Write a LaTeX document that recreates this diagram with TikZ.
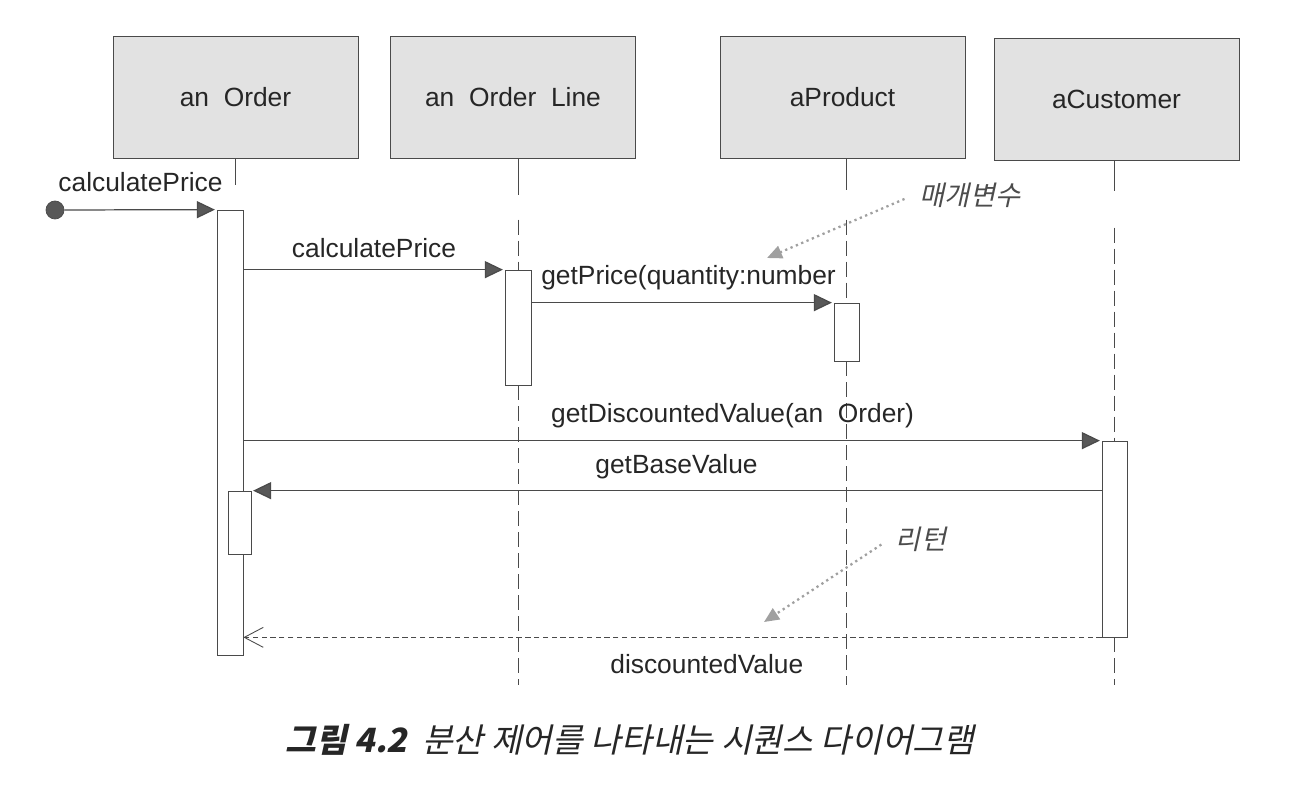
\documentclass[tikz,border=0pt]{standalone}
\usepackage{fontspec}
\setmainfont{Liberation Sans}
\newfontfamily\krslant[FakeSlant=0.22]{Noto Sans CJK KR}
\usepackage{xcolor}
\usetikzlibrary{positioning,calc,arrows.meta}
\definecolor{boxgray}{HTML}{E2E2E2}
\definecolor{linegray}{HTML}{4A4A4A}
\definecolor{headgray}{HTML}{585858}
\definecolor{notegray}{HTML}{A0A0A0}

\begin{document}
\begin{tikzpicture}[x=0.2mm, y=-0.2mm,
    font=\fontsize{15pt}{18pt}\selectfont,
    objbox/.style={draw=linegray, fill=boxgray, minimum width=49mm, minimum height=24.4mm, text=black!85},
    actbar/.style={draw=linegray, fill=white, inner sep=0pt},
    life/.style={linegray, line width=0.5pt},
    lifedash/.style={linegray, line width=0.5pt, dash pattern=on 3mm off 1.2mm},
    msg/.style={linegray, line width=0.7pt, shorten >=1pt, -{Triangle[length=3.6mm, width=3.4mm, fill=headgray]}},
    ret/.style={linegray, line width=0.5pt, densely dashed, -{Straight Barb[length=3.8mm, width=4mm]}},
    lbl/.style={text=black!85},
    note/.style={text=black!70, font=\fontsize{15.5pt}{18pt}\krslant},
    notearrow/.style={notegray, line width=1.3pt, dotted, shorten <=2mm, -{Triangle[length=3mm, width=2.6mm]}}
]
    \useasboundingbox (0,0) rectangle (1294,794);

    % Objects
    \node[objbox] (order) at (235.5,97) {an\ \ Order};
    \node[objbox] (oline) at (513,97) {an\ \ Order\ \ Line};
    \node[objbox] (prod) at (842.5,97) {aProduct};
    \node[objbox] (cust) at (1116.5,99.5) {aCustomer};
    \coordinate (bottom) at (0,685);

    % Activations
    \node[actbar, minimum width=5.2mm, minimum height=89mm] (obar) at (230,432.5) {};
    \node[actbar, minimum width=4.6mm, minimum height=12.6mm] (ibar) at (239.5,522.5) {};
    \node[actbar, minimum width=5.2mm, minimum height=23mm] (lbar) at (518,327.5) {};
    \node[actbar, minimum width=5mm, minimum height=11.6mm] (pbar) at (846.5,332) {};
    \node[actbar, minimum width=5mm, minimum height=39.2mm] (cbar) at (1114.5,539) {};

    % Lifelines
    \draw[life] (order.south) -- ++(0,27);
    \draw[life] (oline.south -| lbar) -- ++(0,37);
    \draw[lifedash] ($(lbar.north)+(0,-50)$) -- (lbar.north);
    \draw[lifedash] (lbar.south) -- (lbar.south |- bottom);
    \draw[life] (prod.south -| pbar) -- ++(0,32);
    \draw[lifedash] ($(pbar.north)+(0,-83)$) -- (pbar.north);
    \draw[lifedash] (pbar.south) -- (pbar.south |- bottom);
    \draw[life] (cust.south -| cbar) -- ++(0,30);
    \draw[lifedash] ($(cbar.north)+(0,-213)$) -- (cbar.north);
    \draw[lifedash] (cbar.south) -- (cbar.south |- bottom);

    % Messages
    \node[circle, fill=headgray, draw=linegray, minimum size=3.6mm, inner sep=0pt] (start) at (55,210) {};
    \draw[msg] (start) -- (obar.north west) node[lbl, midway, above=2.4mm] {calculatePrice};
    \draw[msg] (obar.east |- lbar.north) -- (lbar.north west) node[lbl, midway, above=1mm] {calculatePrice};
    \draw[msg] (lbar.east |- pbar.north) -- (pbar.north west) node[lbl, pos=0.52, above=1.2mm] {getPrice(quantity:number};
    \draw[msg] (obar.east |- cbar.north) -- (cbar.north west) node[lbl, pos=0.57, above=1.2mm] {getDiscountedValue(an\ \ Order)};
    \draw[msg] (cbar.west |- ibar.north) -- (ibar.north east) node[lbl, midway, above=1mm] {getBaseValue};
    \draw[ret] (cbar.south west) -- (obar.east |- cbar.south) node[lbl, pos=0.46, below=2.2mm] {discountedValue};

    % Notes
    \node[note] (pnote) at (970,195) {매개변수};
    \coordinate (ptip) at (767,258);
    \draw[notearrow] (pnote.west) -- (ptip);
    \node[note] (rnote) at (921,539) {리턴};
    \coordinate (rtip) at (764,622);
    \draw[notearrow] (rnote.west) -- (rtip);

    % Caption
    \node[font=\fontsize{19pt}{22pt}\krslant, text=black!85] (caption) at (630,740) {\textbf{그림 4.2}\ \ 분산 제어를 나타내는 시퀀스 다이어그램};
\end{tikzpicture}
\end{document}
